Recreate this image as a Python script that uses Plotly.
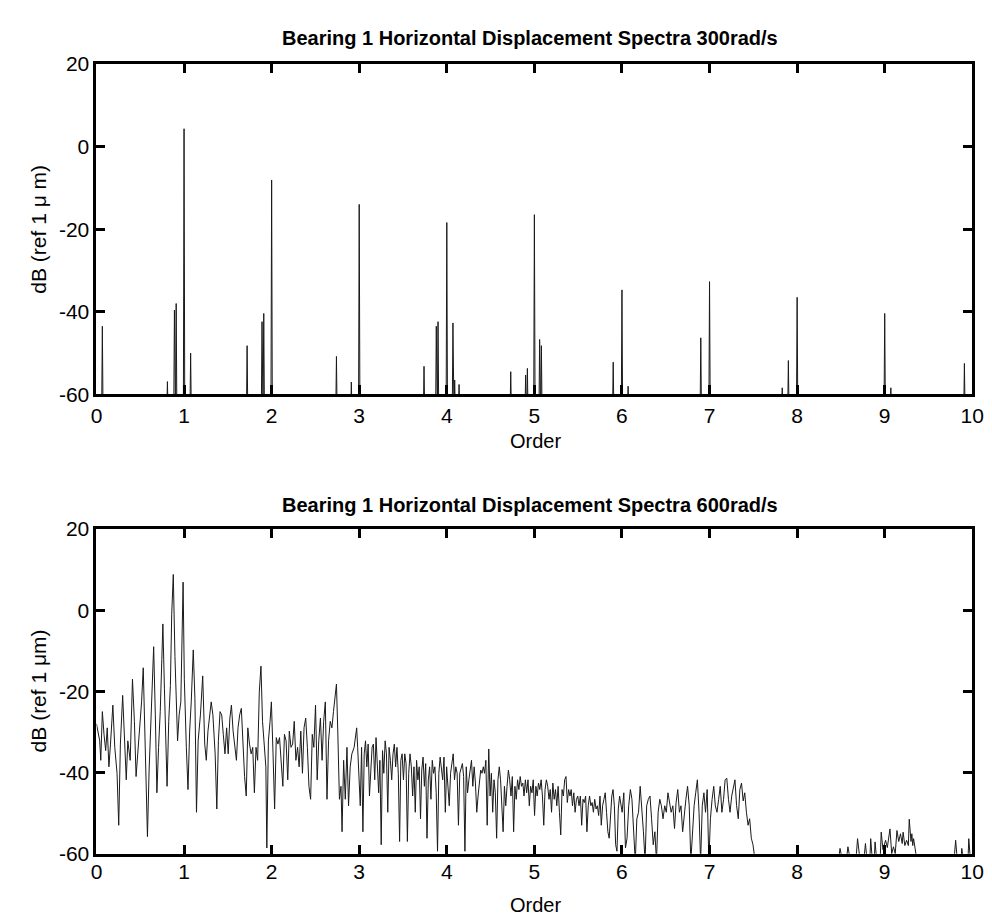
import numpy as np
import plotly.graph_objects as go

# ---------------- data: 300 rad/s (discrete order lines, dB) ----------------
peak_orders_300 = [0.067, 0.81, 0.89, 0.91, 1.0, 1.075, 1.72, 1.89, 1.91, 2.0,
                   2.74, 2.91, 3.0, 3.74, 3.88, 3.90, 4.0, 4.07, 4.09, 4.14,
                   4.73, 4.90, 4.92, 5.0, 5.06, 5.08, 5.90, 6.0, 6.07, 6.90,
                   7.0, 7.83, 7.90, 8.0, 9.0, 9.07, 9.91]
peak_db_300 = [-43.5, -56.9, -39.6, -38.0, 4.3, -50.0, -48.2, -42.4, -40.4, -8.1,
               -50.8, -57.0, -14.0, -53.2, -43.5, -42.4, -18.4, -42.7, -56.5, -57.6,
               -54.5, -55.3, -53.7, -16.5, -46.7, -48.2, -52.2, -34.7, -58.0, -46.3,
               -32.7, -58.4, -51.8, -36.5, -40.4, -58.4, -52.5]
FLOOR_DB = -65.0

# ---------------- data: 600 rad/s (continuous spectrum, dB) ----------------
ord_a = [0.0, 0.037, 0.049, 0.067, 0.086, 0.105, 0.123, 0.142, 0.160, 0.187, 0.209, 0.235,
         0.254, 0.273, 0.299, 0.321, 0.340, 0.358, 0.385, 0.411, 0.433, 0.452, 0.471,
         0.497, 0.515, 0.534, 0.552, 0.571, 0.582, 0.601, 0.620, 0.638, 0.653, 0.672,
         0.690, 0.709, 0.728, 0.746, 0.758, 0.776, 0.795, 0.806, 0.825, 0.844, 0.859,
         0.877, 0.896, 0.915, 0.926, 0.944, 0.963, 0.989, 1.003, 1.026, 1.045, 1.064,
         1.082, 1.105, 1.124, 1.142, 1.161, 1.187, 1.213, 1.236, 1.254, 1.273, 1.292,
         1.310, 1.329, 1.355, 1.374, 1.392, 1.411, 1.430, 1.448, 1.467]
db_a = [-28.0, -32.2, -37.0, -25.0, -30.6, -34.6, -29.0, -38.6, -33.0, -23.4, -33.8, -40.2,
        -53.0, -33.0, -21.0, -33.8, -41.8, -32.2, -37.0, -17.0, -27.4, -41.0, -35.4,
        -29.8, -22.6, -14.2, -33.0, -45.8, -55.8, -39.4, -28.2, -15.4, -9.0, -25.8,
        -45.0, -33.8, -25.0, -12.2, -3.4, -19.4, -38.6, -43.4, -27.4, -18.6, -1.0,
        8.8, -11.4, -25.8, -32.2, -25.8, -22.6, 6.9, -17.0, -33.8, -44.2, -29.8,
        -22.6, -9.8, -21.8, -49.8, -32.2, -25.8, -16.2, -33.0, -37.0, -29.8, -25.0,
        -22.6, -25.8, -35.4, -49.0, -32.2, -25.0, -25.8, -30.6, -35.4]

ord_b = [1.486, 1.504, 1.523, 1.541, 1.560, 1.579, 1.598, 1.616, 1.635, 1.654, 1.672, 1.691,
         1.710, 1.728, 1.747, 1.766, 1.784, 1.803, 1.822, 1.840, 1.859, 1.878, 1.896,
         1.915, 1.934, 1.945, 1.963, 1.982, 1.997, 2.016, 2.034, 2.053, 2.072, 2.090,
         2.109, 2.128, 2.146, 2.165, 2.184, 2.202, 2.221, 2.240, 2.258, 2.277, 2.296,
         2.314, 2.333, 2.352, 2.370, 2.389, 2.408, 2.426, 2.445, 2.464, 2.482, 2.501,
         2.520, 2.538, 2.557, 2.576, 2.594, 2.613, 2.632, 2.650, 2.669, 2.688, 2.706,
         2.725, 2.740, 2.755, 2.774, 2.792, 2.804, 2.822, 2.841, 2.860, 2.878, 2.897,
         2.916, 2.942, 2.971]
db_b = [-29.0, -35.4, -26.6, -23.4, -29.8, -33.8, -37.0, -29.0, -25.8, -24.2, -33.8, -41.0,
        -45.8, -29.0, -33.0, -35.4, -33.8, -45.0, -33.8, -37.0, -20.2, -13.8, -27.4,
        -33.8, -38.6, -58.6, -32.2, -27.4, -22.6, -35.4, -49.0, -31.4, -33.0, -31.4,
        -38.6, -43.4, -30.6, -32.2, -41.8, -29.8, -33.8, -33.0, -27.4, -37.0, -33.8,
        -38.6, -29.8, -40.2, -29.0, -26.6, -33.8, -43.4, -46.6, -30.6, -33.8, -23.4,
        -41.8, -32.2, -26.6, -37.0, -27.4, -22.6, -46.6, -32.2, -27.4, -29.0, -25.0,
        -21.0, -18.2, -29.8, -46.6, -43.4, -54.6, -37.0, -46.6, -33.8, -48.2, -38.6,
        -35.4, -33.8, -29.0]

ord_c = [2.982, 2.997, 3.012, 3.027, 3.042, 3.057, 3.072, 3.087, 3.102, 3.117, 3.132, 3.147,
         3.162, 3.177, 3.192, 3.207, 3.222, 3.236, 3.251, 3.266, 3.281, 3.296, 3.311,
         3.326, 3.341, 3.356, 3.371, 3.386, 3.401, 3.416, 3.431, 3.446, 3.461, 3.475,
         3.490, 3.505, 3.520, 3.535, 3.550, 3.565, 3.580, 3.595, 3.610, 3.625, 3.640,
         3.655, 3.670, 3.685, 3.700, 3.714, 3.729, 3.744, 3.759, 3.774, 3.789, 3.804,
         3.819, 3.834, 3.849, 3.864, 3.879, 3.894, 3.909, 3.924, 3.939, 3.953, 3.968,
         3.983, 3.998, 4.013, 4.028, 4.043, 4.058, 4.073, 4.088, 4.103, 4.118, 4.133,
         4.148, 4.163, 4.178, 4.192, 4.207, 4.222, 4.237, 4.252, 4.267, 4.282, 4.297,
         4.312, 4.327, 4.342, 4.357, 4.372, 4.387, 4.402, 4.417, 4.431, 4.446, 4.461]
db_c = [-33.8, -40.2, -48.2, -33.8, -54.6, -35.4, -32.2, -38.6, -33.0, -45.8, -40.2, -33.8,
        -33.0, -41.8, -31.4, -38.6, -45.0, -37.0, -57.8, -34.6, -40.2, -32.2, -35.4,
        -49.8, -33.8, -37.0, -41.8, -35.4, -33.0, -38.6, -33.8, -40.2, -57.0, -37.0,
        -35.4, -41.8, -35.4, -37.8, -57.0, -40.2, -35.4, -38.6, -45.8, -38.6, -49.8,
        -37.0, -41.8, -38.6, -51.4, -39.4, -36.2, -43.4, -37.8, -56.2, -41.8, -38.6,
        -46.6, -37.0, -40.2, -38.6, -45.0, -59.4, -40.2, -36.2, -38.6, -41.8, -36.2,
        -49.8, -38.6, -43.4, -48.2, -40.2, -37.0, -35.4, -41.8, -38.6, -40.2, -53.0,
        -40.2, -38.6, -37.8, -41.0, -59.4, -38.6, -45.0, -41.8, -38.6, -37.0, -43.4,
        -38.6, -42.6, -49.8, -45.8, -41.8, -39.4, -40.2, -38.6, -40.2, -37.0, -53.0]

ord_d = [4.479, 4.494, 4.509, 4.524, 4.539, 4.554, 4.569, 4.584, 4.599, 4.614, 4.629, 4.643,
         4.658, 4.673, 4.688, 4.703, 4.718, 4.733, 4.748, 4.763, 4.778, 4.793, 4.808,
         4.823, 4.838, 4.853, 4.868, 4.882, 4.897, 4.912, 4.927, 4.942, 4.957, 4.972,
         4.987, 5.002, 5.017, 5.032, 5.047, 5.062, 5.077, 5.092, 5.107, 5.122, 5.137,
         5.152, 5.167, 5.181, 5.196, 5.211, 5.226, 5.241, 5.256, 5.271, 5.286, 5.301,
         5.316, 5.331, 5.346, 5.361, 5.376, 5.391, 5.406, 5.420, 5.435, 5.450, 5.465,
         5.480, 5.495, 5.510, 5.525, 5.540, 5.555, 5.570, 5.585, 5.600, 5.615, 5.630,
         5.645, 5.659, 5.674, 5.689, 5.704, 5.719, 5.734, 5.749, 5.764, 5.779, 5.794,
         5.809, 5.824, 5.839, 5.854, 5.869, 5.884, 5.898, 5.913, 5.928, 5.943, 5.958,
         5.973]
db_d = [-34.2, -45.8, -40.2, -49.8, -41.8, -45.0, -56.2, -41.8, -38.6, -41.8, -48.2, -54.6,
        -43.4, -48.2, -43.4, -39.4, -41.8, -45.8, -41.0, -54.6, -43.4, -46.6, -41.8,
        -44.2, -41.0, -43.4, -42.6, -45.8, -41.8, -45.0, -41.8, -48.2, -43.4, -45.0,
        -41.8, -50.6, -43.4, -45.8, -42.6, -44.2, -41.8, -45.8, -53.0, -44.2, -41.8,
        -43.4, -46.6, -44.2, -49.8, -42.6, -46.6, -44.2, -48.2, -43.4, -49.8, -55.4,
        -44.2, -45.8, -41.8, -41.0, -47.4, -44.2, -45.8, -44.2, -48.2, -45.0, -49.8,
        -46.6, -45.8, -48.2, -45.8, -53.0, -46.6, -47.4, -45.8, -54.6, -48.2, -45.8,
        -48.2, -47.4, -49.8, -46.6, -49.0, -48.2, -50.6, -45.8, -53.0, -48.2, -46.6,
        -45.0, -49.8, -54.6, -56.2, -49.8, -45.8, -44.2, -48.2, -57.8, -59.4, -49.0,
        -45.8]

ord_e = [6.002, 6.021, 6.040, 6.058, 6.077, 6.096, 6.114, 6.133, 6.152, 6.170, 6.189, 6.208,
         6.226, 6.245, 6.264, 6.282, 6.301, 6.320, 6.338, 6.357, 6.376, 6.394, 6.413,
         6.432, 6.450, 6.469, 6.488, 6.506, 6.525, 6.544, 6.562, 6.581, 6.600, 6.618,
         6.637, 6.656, 6.674, 6.693, 6.712, 6.730, 6.749, 6.768, 6.786, 6.805, 6.824,
         6.842, 6.861, 6.880, 6.898, 6.917, 6.936, 6.954, 6.973, 6.992, 7.010, 7.029,
         7.048, 7.066, 7.085, 7.104, 7.122, 7.141, 7.160, 7.178, 7.197, 7.216, 7.234,
         7.253, 7.272, 7.290, 7.309, 7.328, 7.346, 7.365, 7.384, 7.402, 7.421, 7.440,
         7.458, 7.477, 7.496, 7.507, 7.522]
db_e = [-49.8, -45.0, -58.6, -56.2, -48.2, -44.2, -46.6, -54.6, -62.0, -51.4, -49.8, -43.4,
        -48.2, -54.6, -62.0, -48.2, -46.6, -45.8, -51.4, -57.8, -54.6, -62.0, -49.8,
        -46.6, -48.2, -51.4, -48.2, -49.8, -45.0, -47.4, -49.8, -48.2, -53.8, -47.4,
        -44.2, -49.8, -48.2, -54.6, -49.8, -46.6, -43.4, -48.2, -62.0, -54.6, -48.2,
        -45.0, -41.8, -49.8, -62.0, -48.2, -45.0, -49.8, -44.2, -62.0, -51.4, -46.6,
        -43.4, -48.2, -49.8, -46.6, -43.4, -49.8, -46.6, -41.8, -41.4, -46.6, -49.8,
        -45.8, -43.4, -41.8, -48.2, -51.4, -44.2, -42.6, -47.0, -45.0, -49.8, -53.0,
        -51.4, -56.2, -57.8, -59.4, -62.0]

ord_f = [8.40, 8.47, 8.49, 8.52, 8.56, 8.58, 8.61, 8.67, 8.69, 8.72, 8.76, 8.78, 8.80,
         8.83, 8.84, 8.86, 8.88, 8.89, 8.91, 8.95, 8.96, 8.98, 9.01, 9.03, 9.06, 9.08,
         9.10, 9.12, 9.14, 9.16, 9.18, 9.20, 9.21, 9.23, 9.25, 9.27, 9.28, 9.30, 9.31,
         9.32, 9.33, 9.35, 9.37, 9.79, 9.81, 9.83, 9.87, 9.88, 9.90, 9.95, 9.96, 9.98, 10.0]
db_f = [-62.0, -62.0, -58.7, -62.0, -62.0, -58.3, -62.0, -62.0, -56.3, -62.0, -62.0, -57.5, -62.0,
        -62.0, -56.3, -62.0, -62.0, -57.1, -62.0, -60.5, -54.7, -59.0, -56.7, -58.5, -53.9, -60.0,
        -58.3, -60.0, -54.3, -57.0, -55.1, -57.5, -54.7, -58.0, -56.7, -58.0, -51.5, -57.0, -55.1,
        -58.0, -56.3, -59.4, -62.0, -62.0, -56.7, -62.0, -62.0, -58.7, -62.0, -62.0, -56.3, -62.0, -62.0]

x_ticks = [0, 1, 2, 3, 4, 5, 6, 7, 8, 9, 10]
x_tick_text = ["0", "1", "2", "3", "4", "5", "6", "7", "8", "9", "10"]
y_ticks = [20, 0, -20, -40, -60]
y_tick_text = ["20", "0", "-20", "-40", "-60"]

title_top = "Bearing 1 Horizontal Displacement Spectra 300rad/s"
title_bot = "Bearing 1 Horizontal Displacement Spectra 600rad/s"
ylabel_top = "dB (ref 1 \u03bc m)"
ylabel_bot = "dB (ref 1 \u03bcm)"
xlabel = "Order"

# ---------------- build series ----------------
HALF_W = 0.008
x300, y300 = [0.0], [FLOOR_DB]
for o, d in zip(peak_orders_300, peak_db_300):
    x300 += [o - HALF_W, o, o + HALF_W]
    y300 += [FLOOR_DB, d, FLOOR_DB]
x300.append(10.0)
y300.append(FLOOR_DB)

x600 = ord_a + ord_b + ord_c + ord_d + ord_e + [8.0] + ord_f
y600 = db_a + db_b + db_c + db_d + db_e + [-62.0] + db_f

FONT = "Liberation Sans, Arial, Helvetica, sans-serif"
W, H = 992, 922
X0, X1 = 84 / W, 976 / W
TOP = (1 - 384 / H, 1 - 45 / H)
BOT = (1 - 855 / H, 1 - 522 / H)

fig = go.Figure()
fig.add_trace(go.Scatter(x=x300, y=y300, mode="lines", xaxis="x", yaxis="y",
                         line=dict(color="#1a1a1a", width=1), showlegend=False,
                         hoverinfo="skip"))
fig.add_trace(go.Scatter(x=x600, y=y600, mode="lines", xaxis="x2", yaxis="y2",
                         line=dict(color="#1a1a1a", width=1), showlegend=False,
                         hoverinfo="skip"))

axis_common = dict(showline=True, linecolor="black", linewidth=3, mirror="ticks",
                   ticks="inside", ticklen=9, tickwidth=3, tickcolor="black",
                   showgrid=False, zeroline=False,
                   tickfont=dict(family=FONT, size=21, color="black"))

fig.update_layout(
    width=W, height=H,
    margin=dict(l=0, r=0, t=0, b=0),
    paper_bgcolor="white", plot_bgcolor="white",
    xaxis=dict(domain=[X0, X1], anchor="y", range=[0, 10], tickvals=x_ticks,
               ticktext=x_tick_text, **axis_common),
    yaxis=dict(domain=list(TOP), anchor="x", range=[-60, 20], tickvals=y_ticks,
               ticktext=y_tick_text, **axis_common),
    xaxis2=dict(domain=[X0, X1], anchor="y2", range=[0, 10], tickvals=x_ticks,
                ticktext=x_tick_text, ticklabelstandoff=-3, **axis_common),
    yaxis2=dict(domain=list(BOT), anchor="x2", range=[-60, 20], tickvals=y_ticks,
                ticktext=y_tick_text, **axis_common),
)

ann = [
    dict(text="<b>" + title_top + "</b>", x=0.53, y=1 - 18 / H, size=20),
    dict(text="<b>" + title_bot + "</b>", x=0.53, y=1 - 497 / H, size=20),
    dict(text=xlabel, x=0.535, y=1 - 432 / H, size=20),
    dict(text=xlabel, x=0.535, y=1 - 908 / H, size=20),
]
for a in ann:
    fig.add_annotation(text=a["text"], x=a["x"], y=a["y"], xref="paper", yref="paper",
                       showarrow=False, xanchor="center", yanchor="middle",
                       font=dict(family=FONT, size=a["size"], color="black"))
for txt, yc in [(ylabel_top, 1 - 214.5 / H), (ylabel_bot, 1 - 688 / H)]:
    fig.add_annotation(text=txt, x=25 / W, y=yc, xref="paper", yref="paper",
                       showarrow=False, textangle=-90, xanchor="center", yanchor="middle",
                       font=dict(family=FONT, size=21, color="black"))

fig.write_html("out.html")
